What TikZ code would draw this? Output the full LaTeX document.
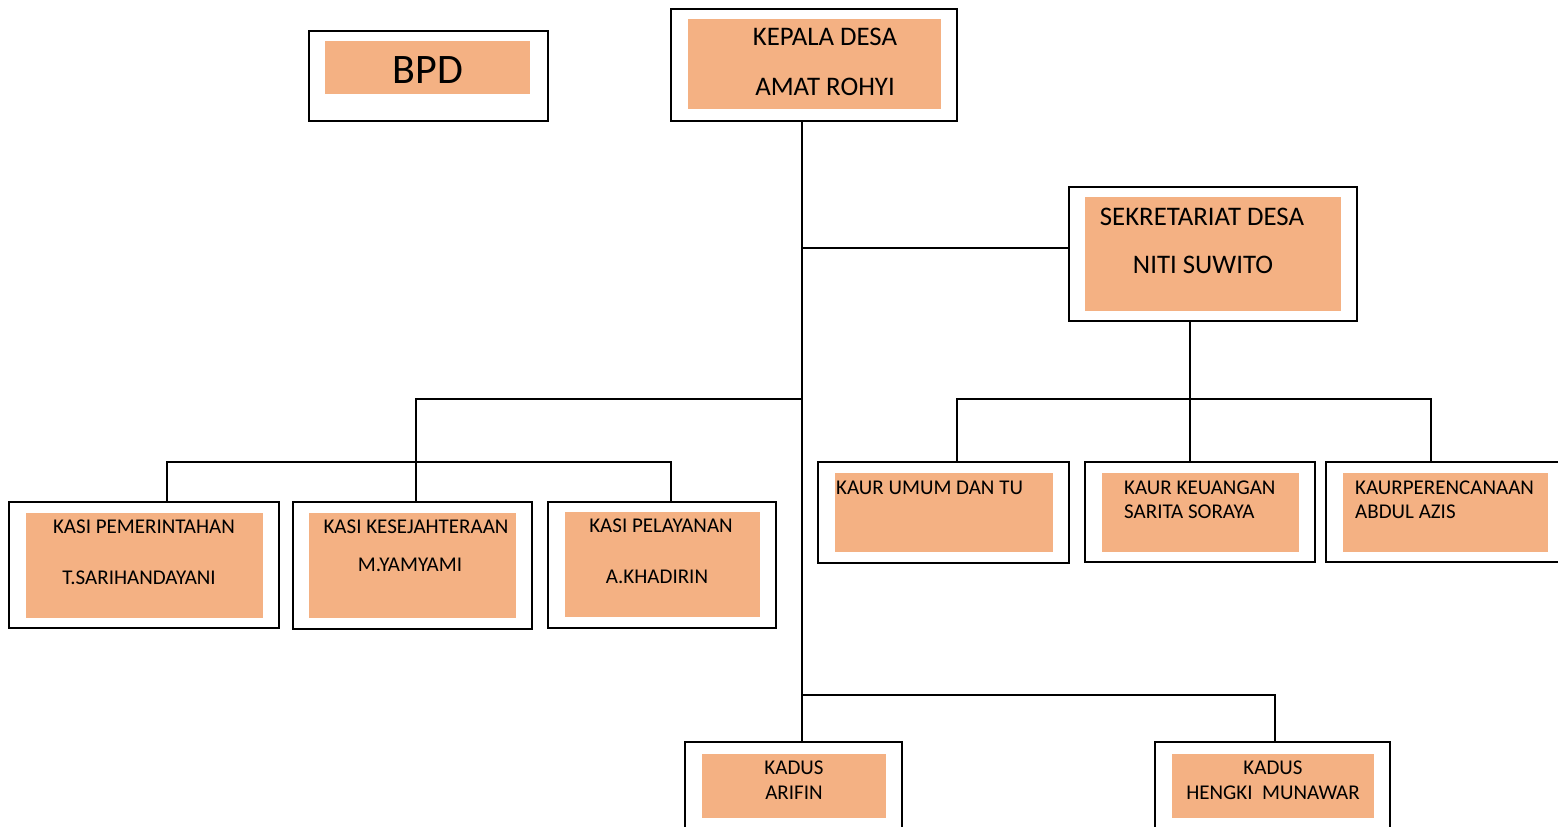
\documentclass[tikz,border=0pt]{standalone}
\usepackage{fontspec}
\setmainfont{Carlito}
\definecolor{boxfill}{HTML}{F4B183}
\tikzset{
  outerbox/.style={draw=black, line width=2pt, fill=white, inner sep=0pt, outer sep=0pt, anchor=north west},
  innerbox/.style={fill=boxfill, draw=none, inner sep=0pt, outer sep=0pt, anchor=north west},
  lbl/.style={inner sep=0pt, font=\fontsize{21}{23}\selectfont},
  biglbl/.style={inner sep=0pt, font=\fontsize{26.8}{29}\selectfont},
  conn/.style={line width=1.6pt, line cap=rect}
}
\begin{document}
\begin{tikzpicture}[x=1pt,y=-1pt]
\useasboundingbox (0,0) rectangle (1558,827);
\clip (0,0) rectangle (1558,827);
% outer boxes
\node[outerbox, minimum width=239pt, minimum height=90pt] (bpd) at (309,31) {};
\node[outerbox, minimum width=286pt, minimum height=112pt] (kepala) at (671,9) {};
\node[outerbox, minimum width=288pt, minimum height=134pt] (sek) at (1069,187) {};
\node[outerbox, minimum width=251pt, minimum height=101pt] (kaur1) at (818,462) {};
\node[outerbox, minimum width=230pt, minimum height=100pt] (kaur2) at (1085,462) {};
\node[outerbox, minimum width=240pt, minimum height=100pt] (kaur3) at (1326,462) {};
\node[outerbox, minimum width=270pt, minimum height=126pt] (kasi1) at (9,502) {};
\node[outerbox, minimum width=239pt, minimum height=127pt] (kasi2) at (293,502) {};
\node[outerbox, minimum width=228pt, minimum height=126pt] (kasi3) at (548,502) {};
\node[outerbox, minimum width=217pt, minimum height=100pt] (kadus1) at (685,742) {};
\node[outerbox, minimum width=235pt, minimum height=100pt] (kadus2) at (1155,742) {};
% inner fills
\node[innerbox, minimum width=205pt, minimum height=53pt] (bpdf) at (325,41) {};
\node[innerbox, minimum width=253pt, minimum height=90pt] (kepalaf) at (688,19) {};
\node[innerbox, minimum width=256pt, minimum height=114pt] (sekf) at (1085,197) {};
\node[innerbox, minimum width=218pt, minimum height=79pt] (kaur1f) at (835,473) {};
\node[innerbox, minimum width=197pt, minimum height=79pt] (kaur2f) at (1102,473) {};
\node[innerbox, minimum width=205pt, minimum height=79pt] (kaur3f) at (1343,473) {};
\node[innerbox, minimum width=237pt, minimum height=105pt] (kasi1f) at (26,513) {};
\node[innerbox, minimum width=207pt, minimum height=105pt] (kasi2f) at (309,513) {};
\node[innerbox, minimum width=195pt, minimum height=105pt] (kasi3f) at (565,512) {};
\node[innerbox, minimum width=184pt, minimum height=64pt] (kadus1f) at (702,754) {};
\node[innerbox, minimum width=202pt, minimum height=64pt] (kadus2f) at (1172,754) {};
% texts
\node[inner sep=0pt, font=\fontsize{42}{46}\selectfont] (tbpd) at (428,70) {BPD};
\node[biglbl] (tkep1) at (825,37) {KEPALA DESA};
\node[biglbl] (tkep2) at (825,87) {AMAT ROHYI};
\node[biglbl] (tsek1) at (1202,217) {SEKRETARIAT DESA};
\node[biglbl] (tsek2) at (1203,265) {NITI SUWITO};
\node[lbl, anchor=west] (tk1) at (836,488) {KAUR UMUM DAN TU};
\node[lbl, anchor=west] (tk2a) at (1124,488) {KAUR KEUANGAN};
\node[lbl, anchor=west] (tk2b) at (1124,512) {SARITA SORAYA};
\node[lbl, anchor=west] (tk3a) at (1355,488) {KAURPERENCANAAN};
\node[lbl, anchor=west] (tk3b) at (1355,512) {ABDUL AZIS};
\node[lbl] (ts1a) at (144,527) {KASI PEMERINTAHAN};
\node[lbl] (ts1b) at (139,578) {T.SARIHANDAYANI};
\node[lbl] (ts2a) at (416,527) {KASI KESEJAHTERAAN};
\node[lbl] (ts2b) at (410,565) {M.YAMYAMI};
\node[lbl] (ts3a) at (661,526) {KASI PELAYANAN};
\node[lbl] (ts3b) at (657,577) {A.KHADIRIN};
\node[lbl] (td1a) at (794,768) {KADUS};
\node[lbl] (td1b) at (794,793) {ARIFIN};
\node[lbl] (td2a) at (1273,768) {KADUS};
\node[lbl] (td2b) at (1273,793) {HENGKI\ \ MUNAWAR};
% junction coordinates
\coordinate (tr) at (802,0);
\coordinate (sx) at (1190,0);
\coordinate (b1) at (957,399);
\coordinate (b3) at (1431,399);
\coordinate (l0) at (802,399);
\coordinate (l1) at (416,399);
\coordinate (m1) at (167,462);
\coordinate (m3) at (671,462);
\coordinate (d0) at (802,695);
\coordinate (d2) at (1275,695);
% connectors
\draw[conn] (kepala.south -| tr) -- (kadus1.north -| tr);
\draw[conn] ([yshift=6pt]sek.west -| tr) -- ([yshift=6pt]sek.west);
\draw[conn] (sek.south -| sx) -- (kaur2.north -| sx);
\draw[conn] (b1 |- kaur1.north) -- (b1) -- (b3) -- (b3 |- kaur3.north);
\draw[conn] (l0) -- (l1) -- (l1 |- kasi2.north);
\draw[conn] (m1 |- kasi1.north) -- (m1) -- (m3) -- (m3 |- kasi3.north);
\draw[conn] (d0) -- (d2) -- (d2 |- kadus2.north);
\end{tikzpicture}
\end{document}
